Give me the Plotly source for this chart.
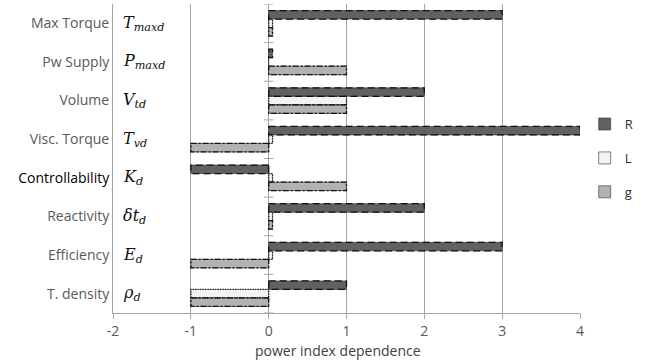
import plotly.graph_objects as go

# Criteria (top to bottom), their symbols, and the power-index dependence per series
categories = ["Max Torque", "Pw Supply", "Volume", "Visc. Torque",
              "Controllability", "Reactivity", "Efficiency", "T. density"]
symbols = ["<i>T</i><sub><i>maxd</i></sub>", "<i>P</i><sub><i>maxd</i></sub>",
           "<i>V</i><sub><i>td</i></sub>", "<i>T</i><sub><i>vd</i></sub>",
           "<i>K</i><sub><i>d</i></sub>", "<i>δt</i><sub><i>d</i></sub>",
           "<i>E</i><sub><i>d</i></sub>", "<i>ρ</i><sub><i>d</i></sub>"]
R_vals = [3, 0.05, 2, 4, -1, 2, 3, 1]
L_vals = [0.05, 0, 1, 0.05, 0.05, 0.05, 0.05, -1]
g_vals = [0.05, 1, 1, -1, 1, 0.05, -1, -1]
x_ticks = [-2, -1, 0, 1, 2, 3, 4]

series = [
    ("R", R_vals, "#616161", "7px,4px", -0.22),
    ("L", L_vals, "#f2f2f2", "1px,1.5px", 0.0),
    ("g", g_vals, "#b2b2b2", "6px,2px,2px,2px", 0.22),
]
BAR_W = 0.22
GRID = "#a6a6a6"

idx = list(range(len(categories)))
fig = go.Figure()

for name, vals, color, dash, shift in series:
    centers = [k + shift for k in idx]
    fig.add_trace(go.Bar(
        x=vals, y=centers, orientation="h", width=BAR_W, name=name,
        legendgroup=name,
        marker=dict(color=color, line=dict(color="#333", width=0.6)),
        hoverinfo="skip",
    ))
    # dashed outline around each bar
    ox, oy = [], []
    h = BAR_W / 2
    for v, c in zip(vals, centers):
        if v == 0:
            continue
        ox += [0, v, v, 0, 0, None]
        oy += [c - h, c - h, c + h, c + h, c - h, None]
    fig.add_trace(go.Scatter(
        x=ox, y=oy, mode="lines", showlegend=False, legendgroup=name,
        line=dict(color="#111", width=1.3, dash=dash), hoverinfo="skip",
    ))

# symbols written inside the plot, beside each criterion
for k, s in zip(idx, symbols):
    fig.add_annotation(x=-1.9, y=k, xref="x", yref="y", text=s, showarrow=False,
                       xanchor="left", yanchor="middle",
                       font=dict(family="DejaVu Serif", size=16, color="#111"))

# small crossing ticks on the zero line at category boundaries
for k in range(len(categories) + 1):
    b = k - 0.5
    fig.add_shape(type="line", x0=-0.06, x1=0.06, y0=b, y1=b, xref="x", yref="y",
                  line=dict(color=GRID, width=1))

ticktext = [
    f"<span style='color:#000'>{c}</span>" if c == "Controllability" else c
    for c in categories
]

fig.add_annotation(text="power index dependence", xref="paper", yref="paper",
                   x=0.482, y=-0.122, showarrow=False, yanchor="middle",
                   font=dict(family="Open Sans", size=14, color="#404040"))

fig.update_layout(
    width=650, height=364,
    margin=dict(l=113, r=70, t=4, b=51),
    paper_bgcolor="white", plot_bgcolor="white",
    barmode="overlay",
    showlegend=True,
    legend=dict(x=1.01, y=0.66, xanchor="left", yanchor="top",
                tracegroupgap=14, itemwidth=30,
                font=dict(family="Open Sans", size=13, color="#333")),
    xaxis=dict(range=[-2, 4], tickvals=x_ticks, ticktext=[str(t) for t in x_ticks],
               showgrid=True, gridcolor=GRID, gridwidth=1, zeroline=False,
               showline=True, linecolor=GRID, linewidth=1,
               ticks="outside", ticklen=5, tickcolor=GRID,
               tickfont=dict(family="Open Sans", size=14, color="#595959")),
    yaxis=dict(range=[7.5, -0.5], tickvals=idx, ticktext=ticktext,
               showgrid=False, zeroline=False, showline=True, linecolor=GRID,
               linewidth=1, ticks="",
               tickfont=dict(family="Open Sans", size=14, color="#595959")),
)

fig.write_html("out.html")
